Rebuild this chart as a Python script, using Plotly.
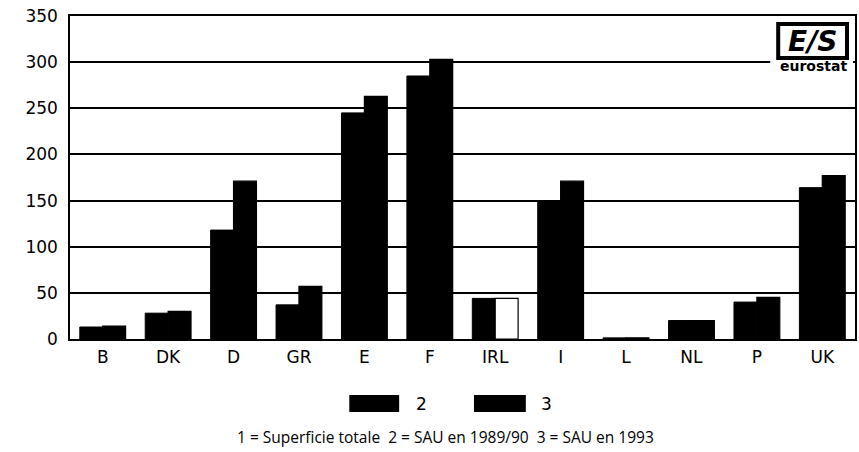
import plotly.graph_objects as go

countries = ["B", "DK", "D", "GR", "E", "F", "IRL", "I", "L", "NL", "P", "UK"]
sau_1989 = [13, 28, 118, 37, 245, 285, 44, 149, 1.2, 20, 40, 164]
sau_1993 = [14, 30, 171, 57, 263, 303, 44, 171, 1.3, 20, 45, 177]
series_names = ["2", "3"]
y_ticks = [0, 50, 100, 150, 200, 250, 300, 350]
caption = "1 = Superficie totale  2 = SAU en 1989/90  3 = SAU en 1993"

W, H = 859, 452
L, R, T, B = 70, 857, 16, 339


def px(x):
    return (x - L) / (R - L)


def py(y):
    return (B - y) / (B - T)


colors_1993 = ["white" if c == "IRL" else "black" for c in countries]

fig = go.Figure()
fig.add_trace(go.Bar(x=countries, y=sau_1989, name=series_names[0],
                     marker=dict(color="black", line=dict(color="black", width=1))))
fig.add_trace(go.Bar(x=countries, y=sau_1993, name=series_names[1],
                     marker=dict(color=colors_1993, line=dict(color="black", width=1.2))))

fig.update_layout(
    width=W, height=H,
    margin=dict(l=L, r=W - R, t=T, b=H - B),
    plot_bgcolor="white", paper_bgcolor="white",
    barmode="group", bargap=0.3, bargroupgap=0,
    showlegend=False,
    font=dict(family="DejaVu Sans", color="black"),
)
fig.update_xaxes(showline=True, linecolor="black", linewidth=2, mirror=True,
                 showgrid=False, ticks="", ticklabelstandoff=2,
                 tickfont=dict(size=17, family="DejaVu Sans"))
fig.update_yaxes(range=[0, 350], tickvals=y_ticks, showline=True, linecolor="black",
                 linewidth=1.5, mirror=True, showgrid=True, gridcolor="black", gridwidth=1.5,
                 zeroline=False, ticks="", ticklabelstandoff=7,
                 tickfont=dict(size=17, family="DejaVu Sans"))

shapes = []
annotations = []


def note(x, y, text, size, family="DejaVu Sans"):
    annotations.append(dict(xref="paper", yref="paper", x=px(x), y=py(y), text=text,
                            xanchor="center", yanchor="middle", showarrow=False,
                            font=dict(size=size, family=family, color="black")))


# legend
for i, (x0, x1, tx) in enumerate([(350, 400, 422), (475, 527, 548)]):
    shapes.append(dict(type="rect", xref="paper", yref="paper", x0=px(x0), x1=px(x1),
                       y0=py(412), y1=py(395), fillcolor="black", line=dict(width=0)))
    note(tx, 404, series_names[i], 17)
note(446, 437, caption, 15.5, "Open Sans")
# eurostat logo
shapes.append(dict(type="rect", xref="paper", yref="paper", x0=px(772), x1=px(855),
                   y0=py(74), y1=py(18), fillcolor="white", line=dict(width=0), layer="above"))
shapes.append(dict(type="rect", xref="paper", yref="paper", x0=px(780), x1=px(849),
                   y0=py(58), y1=py(24), fillcolor="white", line=dict(color="black", width=4),
                   layer="above"))
note(814.5, 41, "<b><i>E/S</i></b>", 28)
note(815, 66, "<b>eurostat</b>", 14)

fig.update_layout(shapes=shapes, annotations=annotations)
fig.write_html("out.html")
